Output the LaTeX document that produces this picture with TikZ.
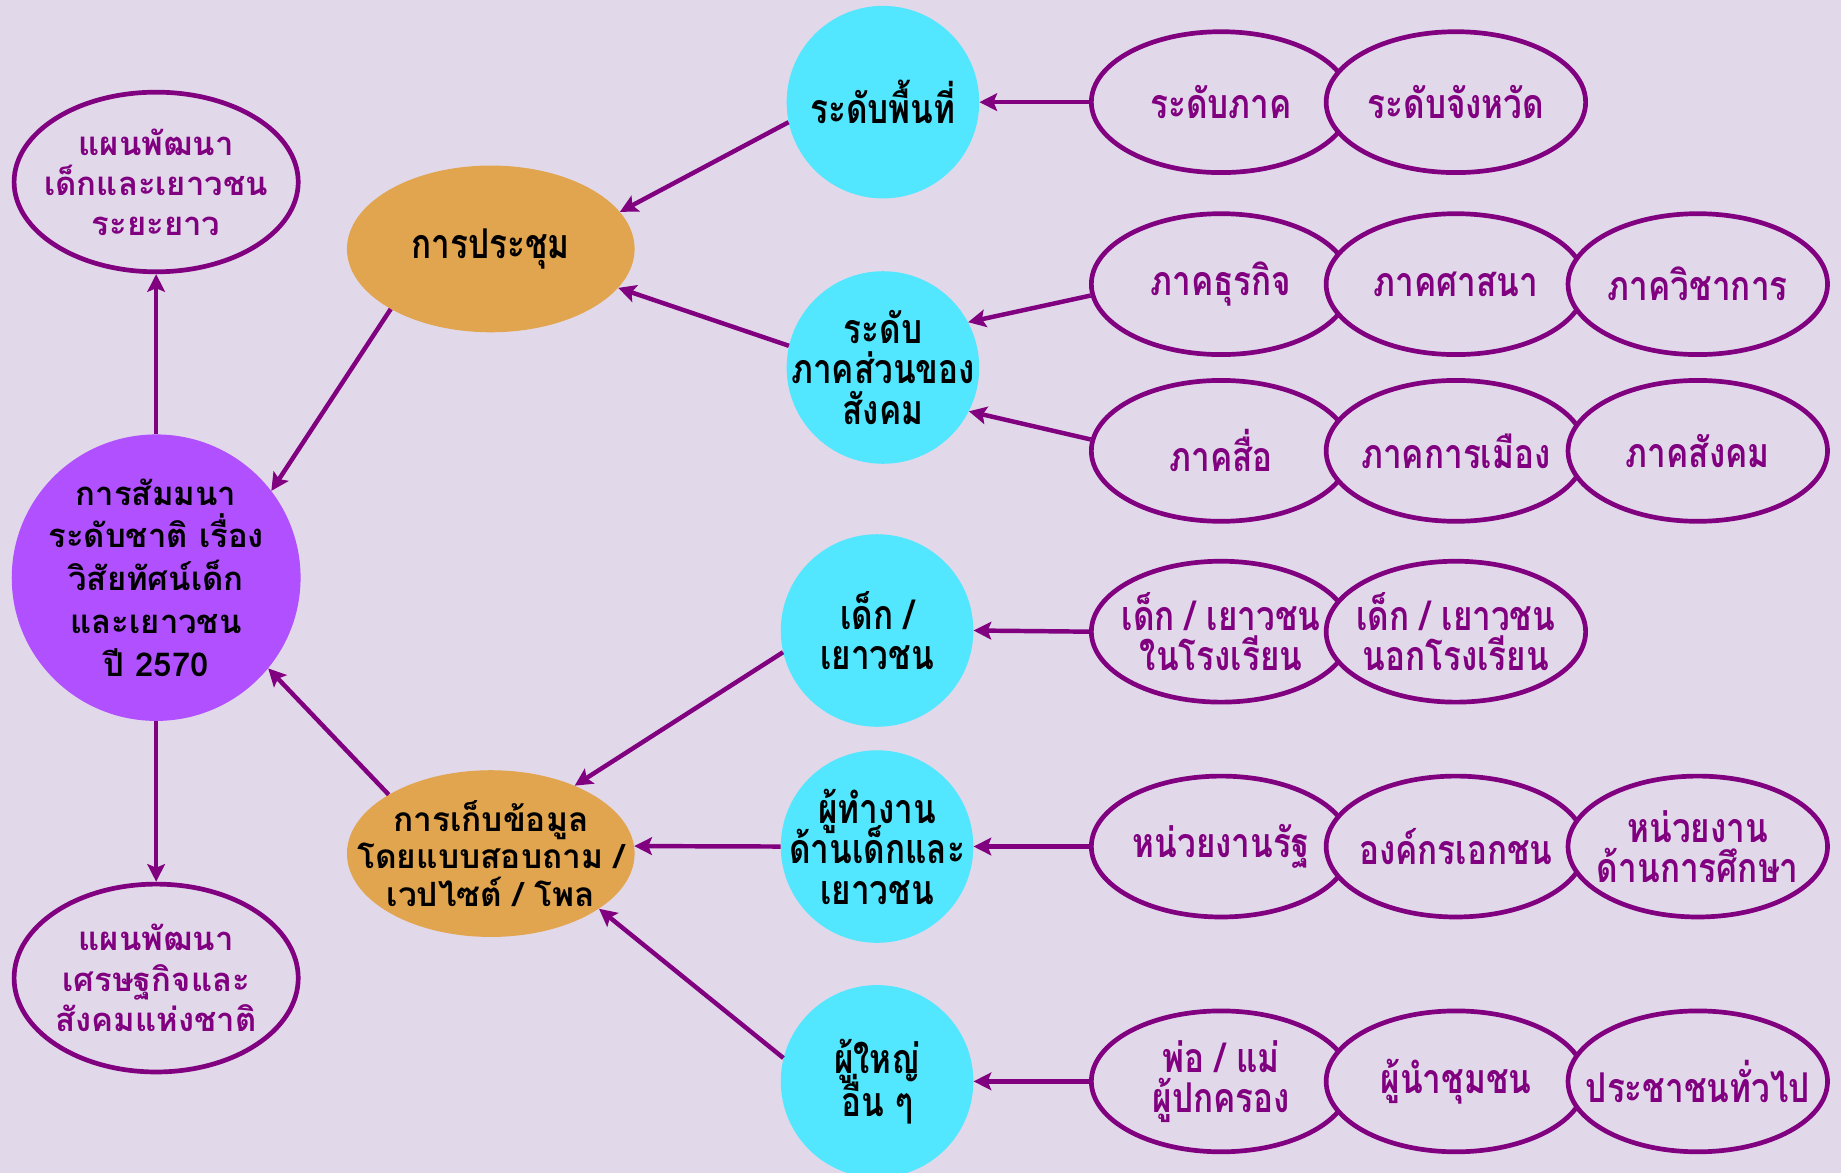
\documentclass[tikz,border=0pt]{standalone}
\usepackage{fontspec}
\newfontfamily\thaifont[Script=Thai]{Loma}
\newfontfamily\thaicond[Script=Thai,FakeStretch=0.81]{Loma}
\newcommand\tightlines{\setlength{\lineskiplimit}{-50pt}\setlength{\lineskip}{0pt}}
\usetikzlibrary{shapes.geometric,arrows.meta}
\definecolor{bgc}{HTML}{E1D9EA}
\definecolor{dpurple}{HTML}{800080}
\definecolor{cpurple}{HTML}{B150FF}
\definecolor{corange}{HTML}{E1A44F}
\definecolor{ccyan}{HTML}{52E6FF}
\tikzset{
  centre/.style={ellipse, fill=cpurple, minimum width=246pt, minimum height=244pt, inner sep=0pt},
  planell/.style={ellipse, draw=dpurple, line width=4pt, fill=bgc, minimum width=242pt, inner sep=0pt},
  orangeell/.style={ellipse, fill=corange, minimum width=245pt, minimum height=142pt, inner sep=0pt},
  cyanell/.style={ellipse, fill=ccyan, minimum width=164pt, minimum height=164pt, inner sep=0pt},
  leafell/.style={ellipse, draw=dpurple, line width=4pt, fill=bgc, minimum width=221pt, minimum height=120pt, inner sep=0pt},
  looptext/.style={inner sep=0pt, align=center, font=\thaifont\bfseries\fontsize{28}{36.5}\selectfont\tightlines},
  condtext/.style={inner sep=0pt, align=center, font=\thaicond\bfseries\fontsize{35}{34.5}\selectfont\tightlines},
  arr/.style={draw=dpurple, line width=3.8pt, -{Stealth[length=15pt,width=15pt,inset=3pt]}},
}
\begin{document}
\begin{tikzpicture}[x=1pt,y=-1pt]
\fill[bgc] (0,0) rectangle (1568,999);
\useasboundingbox (0,0) rectangle (1568,999);

% left column
\node[centre] (z) at (133,492) {};
\node[looptext, text=black] (zt) at (z) {การสัมมนา\\ระดับชาติ เรื่อง\\วิสัยทัศน์เด็ก\\และเยาวชน\\ปี 2570};
\node[planell, minimum height=153pt] (l1) at (133,155) {};
\node[looptext, text=dpurple, font=\thaifont\bfseries\fontsize{28}{34}\selectfont\tightlines] (l1t) at (l1) {แผนพัฒนา\\เด็กและเยาวชน\\ระยะยาว};
\node[planell, minimum height=160pt] (l2) at (133,833) {};
\node[looptext, text=dpurple, font=\thaifont\bfseries\fontsize{28}{34.5}\selectfont\tightlines] (l2t) at (l2) {แผนพัฒนา\\เศรษฐกิจและ\\สังคมแห่งชาติ};

% orange
\node[orangeell] (o1) at (418,212) {};
\node[condtext] (o1t) at (o1) {การประชุม};
\node[orangeell] (o2) at (418,727) {};
\node[looptext, font=\thaifont\bfseries\fontsize{28.5}{32}\selectfont\tightlines] (o2t) at (o2) {การเก็บข้อมูล\\โดยแบบสอบถาม /\\เวปไซต์ / โพล};

% cyan
\node[cyanell] (c1) at (752,87) {};
\node[condtext] (c1t) at (c1) {ระดับพื้นที่};
\node[cyanell] (c2) at (752,313) {};
\node[condtext] (c2t) at (c2) {ระดับ\\ภาคส่วนของ\\สังคม};
\node[cyanell] (c3) at (747,537) {};
\node[condtext] (c3t) at (c3) {เด็ก /\\เยาวชน};
\node[cyanell] (c4) at (747,721) {};
\node[condtext] (c4t) at (c4) {ผู้ทำงาน\\ด้านเด็กและ\\เยาวชน};
\node[cyanell] (c5) at (747,921) {};
\node[condtext, font=\thaicond\bfseries\fontsize{35}{37}\selectfont\tightlines] (c5t) at (c5) {ผู้ใหญ่\\อื่น ๆ};

% leaves
\node[leafell] (r1a) at (1040,87) {};
\node[condtext, text=dpurple] (r1at) at (r1a) {ระดับภาค};
\node[leafell] (r1b) at (1240,87) {};
\node[condtext, text=dpurple] (r1bt) at (r1b) {ระดับจังหวัด};

\node[leafell] (r2a) at (1040,242) {};
\node[condtext, text=dpurple] (r2at) at (r2a) {ภาคธุรกิจ};
\node[leafell] (r2b) at (1240,242) {};
\node[condtext, text=dpurple] (r2bt) at (r2b) {ภาคศาสนา};
\node[leafell] (r2c) at (1446,242) {};
\node[condtext, text=dpurple] (r2ct) at (r2c) {ภาควิชาการ};

\node[leafell] (r3a) at (1040,384) {};
\node[condtext, text=dpurple] (r3at) at (r3a) {ภาคสื่อ};
\node[leafell] (r3b) at (1240,384) {};
\node[condtext, text=dpurple] (r3bt) at (r3b) {ภาคการเมือง};
\node[leafell] (r3c) at (1446,384) {};
\node[condtext, text=dpurple] (r3ct) at (r3c) {ภาคสังคม};

\node[leafell] (r4a) at (1040,538) {};
\node[condtext, text=dpurple] (r4at) at (r4a) {เด็ก / เยาวชน\\ในโรงเรียน};
\node[leafell] (r4b) at (1240,538) {};
\node[condtext, text=dpurple] (r4bt) at (r4b) {เด็ก / เยาวชน\\นอกโรงเรียน};

\node[leafell] (r5a) at (1040,721) {};
\node[condtext, text=dpurple] (r5at) at (r5a) {หน่วยงานรัฐ};
\node[leafell] (r5b) at (1240,721) {};
\node[condtext, text=dpurple] (r5bt) at (r5b) {องค์กรเอกชน};
\node[leafell] (r5c) at (1446,721) {};
\node[condtext, text=dpurple] (r5ct) at (r5c) {หน่วยงาน\\ด้านการศึกษา};

\node[leafell] (r6a) at (1040,921) {};
\node[condtext, text=dpurple] (r6at) at (r6a) {พ่อ / แม่\\ผู้ปกครอง};
\node[leafell] (r6b) at (1240,921) {};
\node[condtext, text=dpurple] (r6bt) at (r6b) {ผู้นำชุมชน};
\node[leafell] (r6c) at (1446,921) {};
\node[condtext, text=dpurple] (r6ct) at (r6c) {ประชาชนทั่วไป};

% arrows
\draw[arr] (z.north) -- (l1.south);
\draw[arr] (z.south) -- (l2.north);
\draw[arr] (o1.211) -- (z.37);
\draw[arr] (o2.150) -- (z.-39);

\draw[arr] (c1.192) -- (o1.16);
\draw[arr] (c2.167) -- (o1.-17);
\draw[arr] (c3.193) -- (o2.39);
\draw[arr] (c4.180) -- (o2.3);
\draw[arr] (c5.166) -- (o2.-27);

\draw[arr] (r1a.west) -- (c1.east);
\draw[arr] (r2a.185) -- (c2.28);
\draw[arr] (r3a.175) -- (c2.-27);
\draw[arr] (r4a.west) -- (c3.east);
\draw[arr] (r5a.west) -- (c4.east);
\draw[arr] (r6a.west) -- (c5.east);
\end{tikzpicture}
\end{document}
